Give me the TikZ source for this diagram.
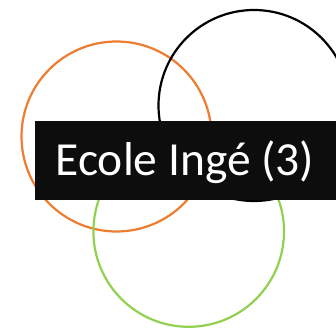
\documentclass[tikz,border=0pt]{standalone}
\usepackage{fontspec}
\setmainfont{Carlito}
\definecolor{offorange}{HTML}{ED7D31}
\definecolor{offgreen}{HTML}{92D050}
\definecolor{boxfill}{HTML}{0D0D0D}
\begin{document}
\begin{tikzpicture}[x=1pt,y=-1pt,
  ring/.style={line width=2.2pt},
  labeltext/.style={anchor=base west,inner sep=0pt,text=white,font=\fontsize{47.5}{52}\selectfont}]
\useasboundingbox (0,0) rectangle (336,328);
\begin{scope}
\clip (0,0) rectangle (336,328);
\draw[ring,offorange] (116.5,136.5) circle[radius=95];
\draw[ring,black] (254,105.5) circle[radius=95.5];
\draw[ring,offgreen] (188.7,231.5) circle[radius=95.3];
\fill[boxfill] (35,121) rectangle (340,200);
\node[labeltext] (t) at (55.5,175.7) {Ecole Ingé (3)};
\end{scope}
\end{tikzpicture}
\end{document}
